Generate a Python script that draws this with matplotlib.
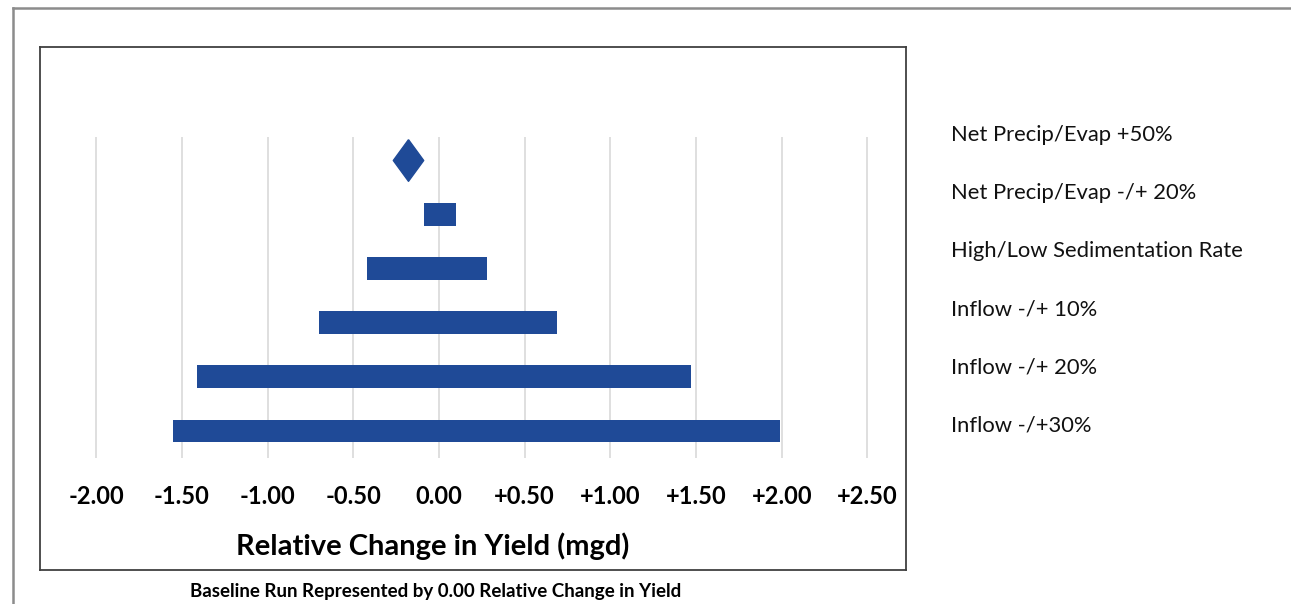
import matplotlib.pyplot as plt
from matplotlib.lines import Line2D

# sensitivity cases, top to bottom
cases = ["Net Precip/Evap +50%", "Net Precip/Evap -/+ 20%",
         "High/Low Sedimentation Rate", "Inflow -/+ 10%",
         "Inflow -/+ 20%", "Inflow -/+30%"]
low = [-0.18, -0.09, -0.42, -0.70, -1.41, -1.55]
high = [-0.18, 0.10, 0.28, 0.69, 1.47, 1.99]
is_point = [True, False, False, False, False, False]

ticks = [-2.0, -1.5, -1.0, -0.5, 0.0, 0.5, 1.0, 1.5, 2.0, 2.5]
tick_labels = ["-2.00", "-1.50", "-1.00", "-0.50", "0.00", "+0.50",
               "+1.00", "+1.50", "+2.00", "+2.50"]

blue = "#1f4a97"
W, H = 1291, 604

fig = plt.figure(figsize=(W / 100, H / 100), dpi=100)

# outer frame (left + top edges of the report figure box)
fig.add_artist(Line2D([12.5 / W, 12.5 / W], [0, 1 - 8 / H], color="#8c8c8c", lw=1.8,
                      transform=fig.transFigure))
fig.add_artist(Line2D([12.5 / W, 1], [1 - 8 / H, 1 - 8 / H], color="#8c8c8c", lw=1.8,
                      transform=fig.transFigure))

# chart box
ax = fig.add_axes([40 / W, 1 - 570 / H, 866 / W, 523 / H])
ax.set_xlim(-2.328, 2.725)
ax.set_ylim(7.565, -2.085)
for s in ax.spines.values():
    s.set_color("#404040")
    s.set_linewidth(1.3)

# gridlines (only span the plotting band)
ax.vlines(ticks, -0.42, 5.5, color="#d9d9d9", lw=1.2, zorder=0)

ypos = list(range(len(cases)))
for y, lo, hi, pt in zip(ypos, low, high, is_point):
    if pt:
        ax.plot(lo, y, marker=[(0, 1), (0.73, 0), (0, -1), (-0.73, 0), (0, 1)],
                ms=30, color=blue, mec=blue, zorder=3)
    else:
        ax.barh(y, hi - lo, left=lo, height=0.42, color=blue, zorder=3)

ax.set_yticks([])
ax.set_xticks(ticks)
ax.set_xticklabels(tick_labels, fontfamily="Lato", fontweight="bold", fontsize=17)
ax.tick_params(axis="x", length=0, pad=-61)
ax.set_xlabel("Relative Change in Yield (mgd)", fontfamily="Lato",
              fontweight="bold", fontsize=21)
ax.xaxis.set_label_coords(0.453, 0.072)

# category labels at the right
for i, c in enumerate(cases):
    fig.text(951 / W, 1 - (135 + 58 * i) / H, c, fontfamily="Lato", fontsize=15.8,
             ha="left", va="center", color="#111111")

fig.text(436 / W, 1 - 591 / H, "Baseline Run Represented by 0.00 Relative Change in Yield",
         fontfamily="Lato", fontweight="bold", fontsize=13.5, ha="center", va="center")

fig.savefig("out.png", dpi=100)
